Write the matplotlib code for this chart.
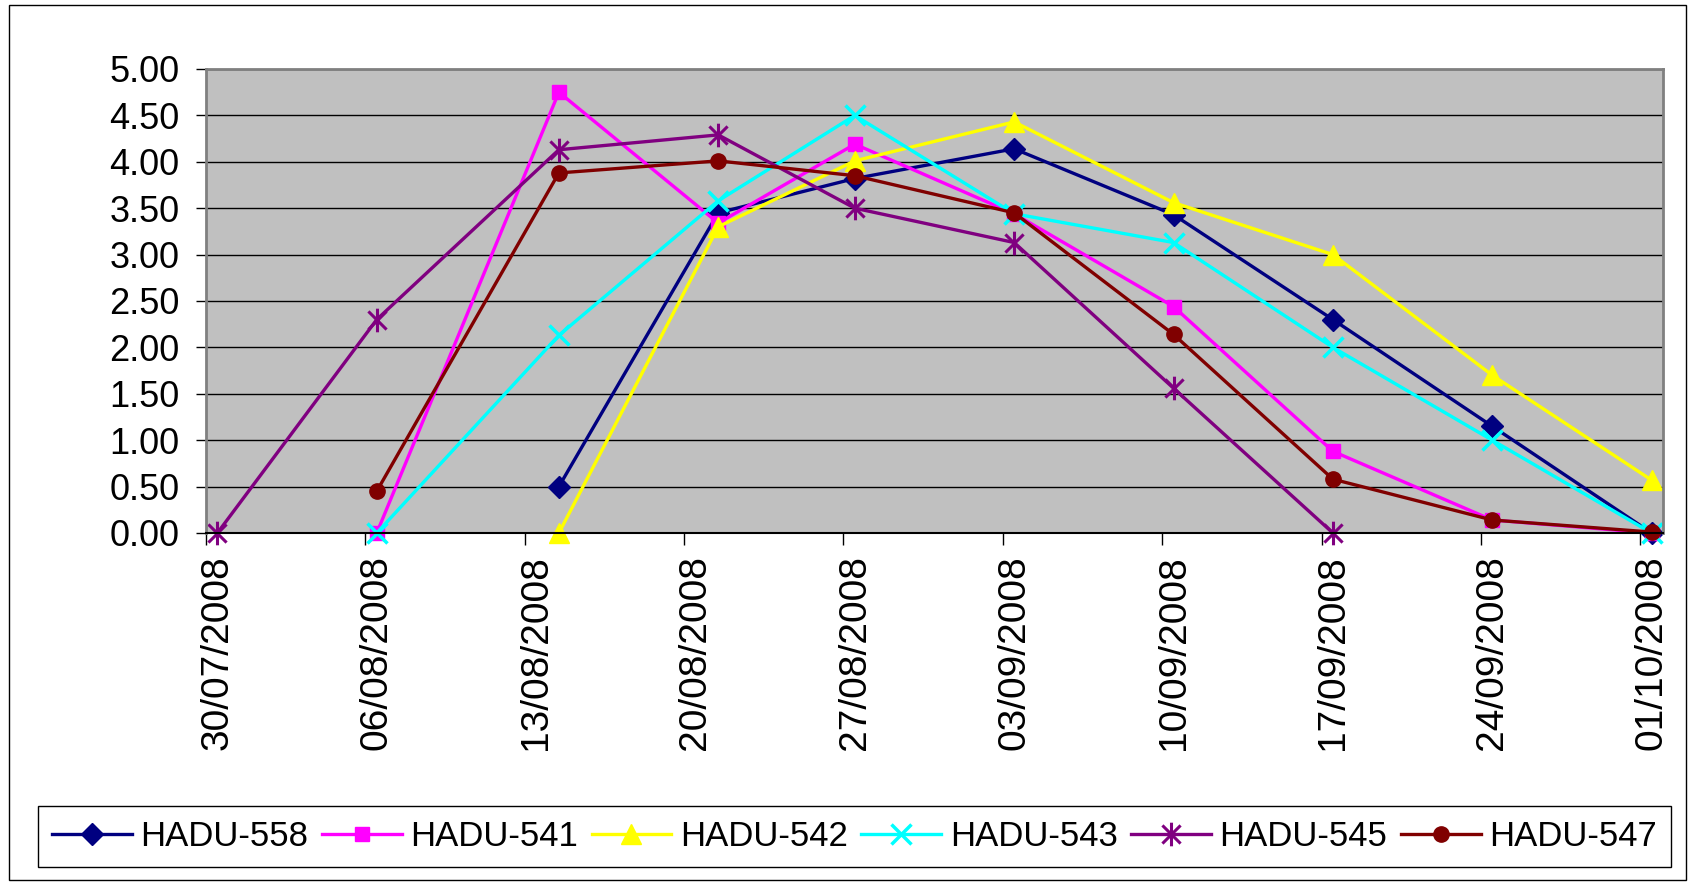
import numpy as np
import datetime as dt
import matplotlib
matplotlib.use("Agg")
from matplotlib import pyplot as plt
import matplotlib.dates as mdates
from matplotlib.path import Path
from matplotlib.patches import Rectangle

plt.rcParams['font.family'] = ['Liberation Sans', 'DejaVu Sans']

nan = np.nan

sample_dates = ['30/07/2008', '06/08/2008', '14/08/2008', '21/08/2008', '27/08/2008',
                '03/09/2008', '10/09/2008', '17/09/2008', '24/09/2008', '01/10/2008']
tick_dates = ['30/07/2008', '06/08/2008', '13/08/2008', '20/08/2008', '27/08/2008',
              '03/09/2008', '10/09/2008', '17/09/2008', '24/09/2008', '01/10/2008']

hadu_558 = [nan, nan, 0.50, 3.45, 3.82, 4.14, 3.43, 2.30, 1.15, 0.00]
hadu_541 = [nan, 0.00, 4.75, 3.34, 4.19, 3.44, 2.44, 0.88, 0.14, 0.00]
hadu_542 = [nan, nan, 0.00, 3.30, 4.01, 4.43, 3.56, 3.00, 1.70, 0.57]
hadu_543 = [nan, 0.00, 2.13, 3.58, 4.50, 3.44, 3.13, 2.00, 1.00, 0.00]
hadu_545 = [0.00, 2.30, 4.13, 4.29, 3.50, 3.13, 1.56, 0.00, nan, nan]
hadu_547 = [nan, 0.45, 3.88, 4.01, 3.85, 3.45, 2.14, 0.58, 0.14, 0.01]

labels = ['HADU-558', 'HADU-541', 'HADU-542', 'HADU-543', 'HADU-545', 'HADU-547']


def to_date(s):
    return dt.datetime.strptime(s, '%d/%m/%Y')


x = mdates.date2num([to_date(s) for s in sample_dates])
xt = mdates.date2num([to_date(s) for s in tick_dates])

# excel style "star" marker: x with a vertical stroke
star = Path([(-1, -1), (1, 1), (-1, 1), (1, -1), (0, -1.3), (0, 1.3)],
            [Path.MOVETO, Path.LINETO, Path.MOVETO, Path.LINETO, Path.MOVETO, Path.LINETO])

fig = plt.figure(figsize=(16.93, 8.82), dpi=100)
fig.patches.append(Rectangle((9 / 1693, 2 / 882), 1677 / 1693, 875 / 882, transform=fig.transFigure,
                             fill=False, edgecolor='black', linewidth=1))
ax1 = fig.add_axes([206 / 1693, 1 - 533 / 882, (1663 - 206) / 1693, (533 - 69) / 882])
ax1.set_facecolor('#C0C0C0')

lw = 2.4
ax1.plot(x, hadu_558, '-', color='#000080', lw=lw, marker='D', ms=11, label=labels[0], clip_on=False)
ax1.plot(x, hadu_541, '-', color='#FF00FF', lw=lw, marker='s', ms=10, label=labels[1], clip_on=False)
ax1.plot(x, hadu_542, '-', color='#FFFF00', lw=lw, marker='^', ms=14, label=labels[2], clip_on=False)
ax1.plot(x, hadu_543, '-', color='#00FFFF', lw=lw, marker='x', ms=14, mew=2.5, label=labels[3],
         clip_on=False)
ax1.plot(x, hadu_545, '-', color='#800080', lw=lw, marker=star, ms=17, mew=2.2,
         mfc='none', label=labels[4], clip_on=False)
ax1.plot(x, hadu_547, '-', color='#800000', lw=lw, marker='o', ms=11, label=labels[5], clip_on=False)

ax1.set_xlim(x[0] - 0.5, x[-1] + 0.5)
ax1.set_ylim(0, 5)
ax1.set_yticks(np.arange(0, 5.01, 0.5))
ax1.yaxis.set_major_formatter(matplotlib.ticker.FormatStrFormatter('%.2f'))
ax1.set_xticks(xt)
ax1.set_xticklabels(tick_dates, rotation=90, va='top')
ax1.set_xticks(xt - 0.5, minor=True)
ax1.tick_params(axis='x', which='major', length=0, pad=16, labelsize=28)
ax1.tick_params(axis='x', which='minor', length=8.5, width=1, color='black', direction='out')
ax1.tick_params(axis='y', length=7, width=1, pad=12, labelsize=26, direction='out')

ax1.grid(axis='y', color='black', lw=1)
ax1.set_axisbelow(True)
for s in ['left', 'right', 'top']:
    ax1.spines[s].set_color('#808080')
    ax1.spines[s].set_linewidth(2)
ax1.spines['bottom'].set_color('black')
ax1.spines['bottom'].set_linewidth(1.5)

fig.legend(loc='center', ncol=6, mode='expand', fontsize=25,
           bbox_to_anchor=(38 / 1693, 1 - 872 / 882, (1671 - 38) / 1693, 71 / 882),
           borderaxespad=0, fancybox=False, edgecolor='black', framealpha=1,
           handlelength=2.3, handletextpad=0.25, columnspacing=0.5)

plt.savefig("out.png")
plt.close()
